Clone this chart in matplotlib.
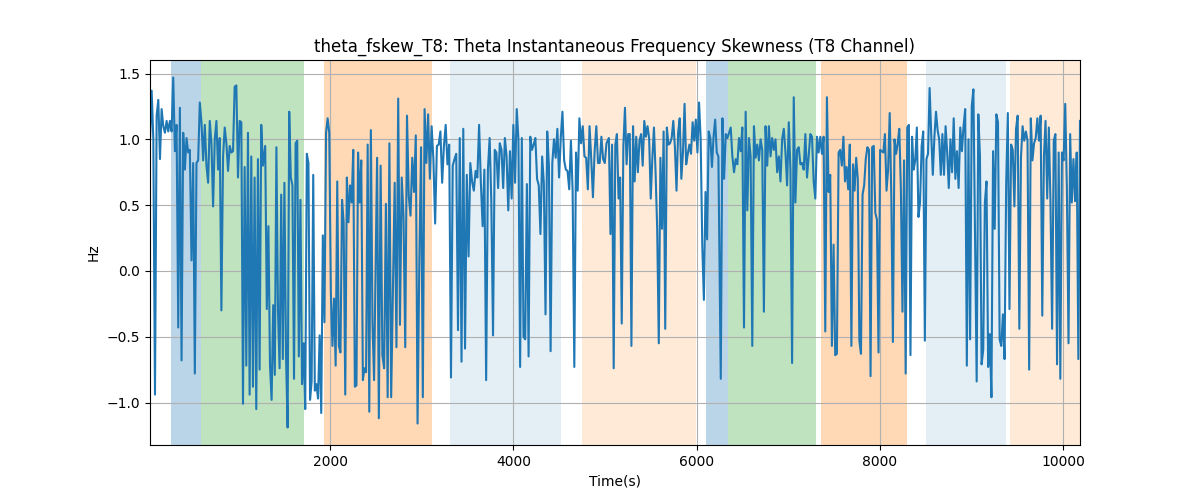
import numpy as np
import matplotlib
matplotlib.use("Agg")
import matplotlib.pyplot as plt

# time edges (s) of each stretch of samples
seg_start = [31, 1289, 2511, 3740, 5042, 6264, 7551, 8772]
seg_end = [1264, 2478, 3721, 5016, 6238, 7532, 8754, 10187]

seg1 = [0.99, 1.37, 1.0, -0.94, 1.18, 1.30, 0.85, 1.23, 1.10, 1.05, 1.14, 1.06, 1.14, 1.06, 1.47,
        0.91, 1.11, -0.43, 1.24, -0.68, 1.05, 0.77, 1.01, 0.90, 0.92, 0.08, 0.82, -0.78, 0.82, 0.84,
        1.28, 1.13, 0.84, 1.11, 0.80, 0.67, 1.14, 0.97, 0.49, 1.0, 1.14, 0.77, 1.01, -0.30, 0.87,
        1.09, 0.97, 0.76, 0.95, 0.90, 0.91, 1.40, 1.41, 0.71, 1.14, 1.13, -1.01, 0.79, -0.72, 1.05,
        -0.94, 0.87, -0.88, 0.71, -1.05, 0.85, -0.75, 1.11, 0.80]
seg2 = [0.95, -0.29, 0.34, -0.72, -0.98, -0.26, -0.79, 0.94, -0.31, -0.74, 0.58, -0.67, 0.67, -0.64,
        -1.19, 1.21, 0.71, 0.65, -0.82, 0.97, 0.99, -0.65, 0.54, -0.86, -0.55, -1.05, 0.89, 0.82,
        -0.98, -0.84, 0.73, -0.91, -0.86, -0.97, -0.49, -1.08, 0.27, -0.39, 1.05, 1.16, 1.05, -0.16,
        -0.57, -0.21, -0.72, 0.68, -0.57, -0.62, 0.54, 0.37, -0.94, 0.71, 0.37, 0.65, 0.52, 0.92,
        -0.88, -0.87, 0.90, 0.52, 0.84, -0.83, -0.74, -0.77, 0.96, -1.07, 1.07, -0.39, -0.83]
seg3 = [0.86, -1.12, 0.80, -0.64, -0.74, 0.51, -0.96, 0.97, -0.96, -0.14, 0.67, -0.58, 1.31, -0.41,
        0.71, 0.42, -0.58, 1.18, 0.57, 0.42, 0.86, 0.60, 1.03, -1.16, 0.06, 0.94, -0.96, 1.23, 0.82,
        1.19, 0.70, 1.10, 0.85, 0.36, 0.95, 0.96, 1.06, 0.67, 0.95, 1.11, 0.81, 0.96, -0.81, 0.80,
        0.85, 0.89, -0.45, 1.01, -0.69, 1.08, -0.59, 0.73, 0.11, 0.82, 0.68, 0.61, 0.76, 0.71, 1.11,
        0.67, 0.34, 0.77, -0.83, 0.77]
seg4 = [1.01, 0.52, -0.49, 0.92, 0.90, 0.63, 0.97, 0.92, 0.63, 1.01, 0.87, 0.46, 0.91, 0.55, 1.11,
        0.67, 1.23, 1.0, -0.73, 1.01, -0.50, -0.52, 0.66, -0.65, 1.02, 0.92, 0.96, 1.01, 0.70, 0.65,
        0.28, 0.87, 0.67, -0.33, 1.06, 0.80, -0.61, 0.82, 1.0, 0.86, 1.08, 0.71, 1.01, 1.21, 0.84,
        0.77, 0.76, 0.62, 0.99, 0.61, -0.73, 0.90, 0.61, 1.16, 0.97, 1.10, 0.87, 0.86, 0.62, 1.10,
        0.85, 0.56, 0.91, 1.10, 0.82, 0.82, 1.02, 0.85, 0.82, 0.97]
seg5 = [1.01, 0.28, 0.96, -0.74, 0.96, 1.04, 0.55, 0.71, -0.40, 0.95, 1.24, 0.81, 1.04, 1.04, -0.57,
        1.10, 0.68, 1.02, 0.75, 0.99, 1.04, 0.80, 1.14, 1.02, 1.10, 1.01, 0.55, 0.86, 1.09, 0.75,
        0.32, -0.55, 0.86, 0.32, 1.06, -0.44, 1.09, 0.96, 0.97, 1.01, 1.14, 0.94, 0.61, 1.05, 1.16,
        0.70, 0.90, 1.27, 0.81, 0.89, 0.96, 0.89, 1.13, 0.99, 1.15, 0.90, 1.28, 1.0, 0.19, -0.22,
        0.60, 0.24, 1.06, 1.01, 0.79, 1.02, 1.15, 0.90, 0.87]
seg6 = [-0.82, 1.16, 0.70, 1.04, 1.01, 1.05, 1.09, 0.87, 0.75, 0.85, 0.81, 1.01, 0.91, 1.09, -0.43,
        1.21, 0.46, 1.01, 0.87, -0.57, 1.10, 0.86, 0.96, 0.84, 1.0, 0.92, -0.31, 1.10, 0.80, 1.10,
        0.87, 1.01, 0.92, 1.0, 0.75, 0.87, 0.68, 1.0, 1.08, 0.90, 0.65, 1.13, 0.77, -0.70, 1.32,
        0.52, 0.92, 0.94, 0.81, 0.82, 0.77, 1.04, 0.71, 0.87, 1.04, 1.02, 0.68, 0.55, 1.02, 0.90,
        1.02, 0.89, 1.02, -0.46, 1.32, 0.60, 0.73, -0.57, 0.20, -0.64, -0.63]
seg7 = [0.90, 0.92, 0.80, 1.02, 0.68, 0.79, 0.62, 0.96, -0.57, 0.81, 0.61, 0.86, 0.70, -0.53, -0.63,
        0.58, 0.65, 0.85, 0.94, 0.92, -0.80, 0.94, 0.95, 0.44, 0.39, -0.62, 0.92, 0.91, 0.90, 1.04,
        0.61, 0.77, 1.20, 0.57, -0.54, 1.0, 0.89, 0.97, 1.08, 0.62, -0.31, 0.84, -0.78, 1.09, 1.11,
        -0.64, 1.02, 0.77, 0.84, 1.09, 0.41, 0.52, 0.95, 1.06, -0.53, 0.85, 0.89, 1.39, 1.04, 0.73,
        1.02, 1.21, 1.07, 1.0, 0.73, 1.04, 0.73, 1.10, 0.90, 0.63]
seg8 = [1.0, 0.75, 1.16, 0.70, 0.91, 0.63, 1.09, 0.91, 1.10, 1.23, -0.72, 1.0, -0.52, 1.25, 1.38,
        0.25, -0.84, 1.19, 0.87, -0.71, -0.60, 0.52, 0.68, -0.73, -0.48, -0.96, 0.91, 0.32, 1.19,
        1.13, -0.52, -0.57, -0.33, -0.67, 0.67, 1.20, -0.29, 0.96, 0.92, 0.49, 1.08, 1.18, -0.44,
        0.86, 1.10, 0.99, 1.06, 0.99, -0.75, 1.16, 0.84, 0.97, 1.01, 1.16, 0.99, 1.18, -0.34, 0.87,
        1.14, 0.55, 1.09, 0.52, -0.44, 0.99, 1.04, -0.71, 0.90, -0.82, 0.90, 0.84, 1.27, 0.62, -0.55,
        1.04, 0.52, 0.85, 0.53, 0.90, -0.67, 1.14]

# shaded intervals: (start, end, colour, alpha)
span_start = [264, 585, 1934, 3305, 4750, 6103, 6347, 7361, 8510, 9418]
span_end = [585, 1708, 3113, 4524, 5997, 6347, 7306, 8299, 9374, 10187]
span_color = ['tab:blue', 'tab:green', 'tab:orange', 'tab:blue', 'tab:orange',
              'tab:blue', 'tab:green', 'tab:orange', 'tab:blue', 'tab:orange']
span_alpha = [0.3, 0.3, 0.3, 0.12, 0.16, 0.3, 0.3, 0.3, 0.12, 0.16]

segs = [seg1, seg2, seg3, seg4, seg5, seg6, seg7, seg8]
t = np.concatenate([np.linspace(a, b, len(s)) for a, b, s in zip(seg_start, seg_end, segs)])
y = np.concatenate(segs)

fig, ax = plt.subplots(figsize=(12, 5), dpi=100)
for a, b, c, al in zip(span_start, span_end, span_color, span_alpha):
    ax.axvspan(a, b, color=c, alpha=al, lw=0)
ax.plot(t, y, color='tab:blue', linewidth=1.5)
ax.set_xlim(t.min(), t.max())
ax.grid(True)
ax.set_title('theta_fskew_T8: Theta Instantaneous Frequency Skewness (T8 Channel)')
ax.set_xlabel('Time(s)')
ax.set_ylabel('Hz')
fig.savefig('out.png')
